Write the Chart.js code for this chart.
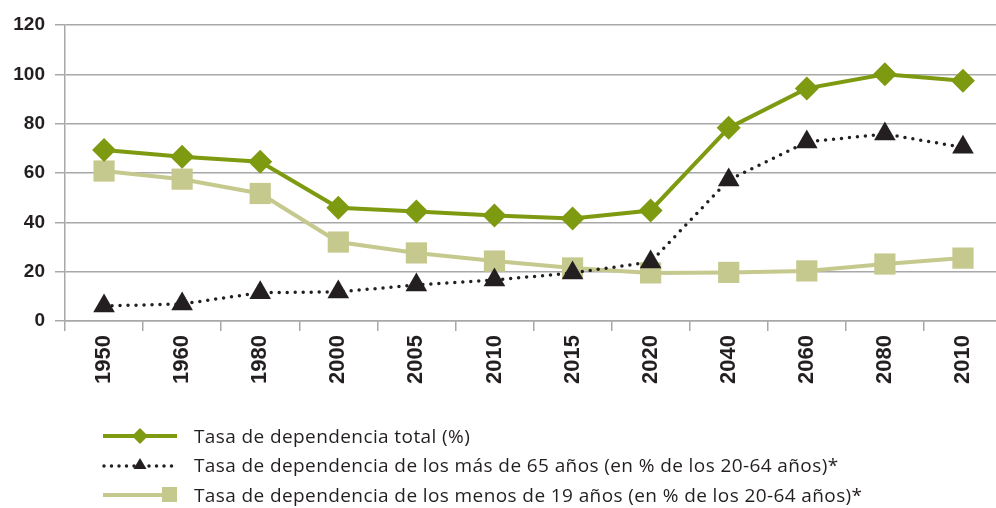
<!DOCTYPE html>
<html><head><meta charset="utf-8">
<script src="https://cdn.jsdelivr.net/npm/chart.js@4/dist/chart.umd.min.js"></script>
<style>
html,body{margin:0;padding:0;background:#fff;width:996px;height:508px;overflow:hidden;}
#wrap{position:absolute;left:0;top:0;width:1017px;height:508px;}
#legend{position:absolute;left:0;top:0;font-family:"Open Sans",sans-serif;font-size:19px;letter-spacing:0.4px;color:#231f20;}
.row{position:absolute;left:100px;white-space:nowrap;height:24px;line-height:24px;}
.row svg{position:absolute;left:0;top:0;}
.row span{position:absolute;left:94px;top:0;}
</style></head>
<body>
<div id="wrap"><canvas id="c" width="1017" height="508"></canvas></div>
<div id="legend"></div>
<script>
const categories = ["1950","1960","1980","2000","2005","2010","2015","2020","2040","2060","2080","2010"];
const totalRate = [69.3, 66.6, 64.6, 45.9, 44.4, 42.8, 41.6, 44.8, 78.3, 94.3, 100.0, 97.4];
const over65Rate = [6.1, 6.9, 11.5, 11.8, 14.6, 16.6, 19.5, 23.9, 57.2, 72.6, 75.8, 70.4];
const under19Rate = [60.8, 57.5, 51.7, 32.0, 27.6, 24.3, 21.5, 19.5, 19.7, 20.3, 23.1, 25.5];
const yTicks = [0, 20, 40, 60, 80, 100, 120];
const seriesNames = [
  "Tasa de dependencia total (%)",
  "Tasa de dependencia de los más de 65 años (en % de los 20-64 años)*",
  "Tasa de dependencia de los menos de 19 años (en % de los 20-64 años)*"
];

const GREEN = "#7e9a11", DARK = "#231f20", LIGHT = "#c6c98e", GRID = "#a8a8a8";

new Chart(document.getElementById("c"), {
  type: "line",
  data: {
    labels: categories,
    datasets: [
      { label: seriesNames[0], data: totalRate, borderColor: GREEN, backgroundColor: GREEN,
        borderWidth: 4, pointStyle: "rectRot", pointRadius: 12, pointBorderWidth: 0, pointHoverRadius: 12, tension: 0 },
      { label: seriesNames[1], data: over65Rate, borderColor: DARK, backgroundColor: DARK,
        borderWidth: 3.5, borderDash: [0, 8], borderCapStyle: "round",
        pointStyle: "triangle", pointRadius: 12.5, pointBorderWidth: 0, pointHoverRadius: 12.5, tension: 0 },
      { label: seriesNames[2], data: under19Rate, borderColor: LIGHT, backgroundColor: LIGHT,
        borderWidth: 4, pointStyle: "rect", pointRadius: 15, pointBorderWidth: 0, pointHoverRadius: 15, tension: 0 }
    ]
  },
  options: {
    responsive: false,
    animation: false,
    events: [],
    layout: { padding: { top: 25, right: 0, bottom: 0, left: 0 } },
    plugins: { legend: { display: false }, tooltip: { enabled: false } },
    scales: {
      x: {
        offset: true,
        grid: { offset: true, drawOnChartArea: false, color: GRID, lineWidth: 1.5, tickLength: 10 },
        border: { color: GRID, width: 1.5 },
        ticks: { maxRotation: 90, minRotation: 90, padding: 4, color: DARK,
          font: { family: "'Liberation Sans Narrow','Liberation Sans',sans-serif", weight: "bold", size: 22 } },
        afterFit: s => { s.height = 187; }
      },
      y: {
        min: 0, max: 120,
        afterBuildTicks: s => { s.ticks = yTicks.map(v => ({ value: v })); },
        grid: { color: GRID, lineWidth: 1.5, tickLength: 10 },
        border: { color: GRID, width: 1.5 },
        ticks: { padding: 10, color: DARK,
          font: { family: "'Liberation Sans',sans-serif", weight: "bold", size: 19 } },
        afterFit: s => { s.width = 65; }
      }
    }
  }
});

// HTML legend
const legendDefs = [
  { y: 424, svg: `<svg width="80" height="24"><line x1="3" y1="12" x2="77" y2="12" stroke="${GREEN}" stroke-width="4"/><polygon points="40,4 48,12 40,20 32,12" fill="${GREEN}"/></svg>` },
  { y: 453, svg: `<svg width="80" height="24"><line x1="4" y1="13" x2="77" y2="13" stroke="${DARK}" stroke-width="3.5" stroke-dasharray="0 7.5" stroke-linecap="round"/><polygon points="40,5 46.5,16 33.5,16" fill="${DARK}"/></svg>` },
  { y: 483, svg: `<svg width="80" height="24"><line x1="3" y1="12" x2="70" y2="12" stroke="${LIGHT}" stroke-width="4"/><rect x="62" y="4" width="15" height="15" fill="${LIGHT}"/></svg>` }
];
const lg = document.getElementById("legend");
legendDefs.forEach((d, i) => {
  const r = document.createElement("div");
  r.className = "row";
  r.style.top = d.y + "px";
  r.innerHTML = d.svg + `<span>${seriesNames[i]}</span>`;
  lg.appendChild(r);
});
</script>
</body></html>
